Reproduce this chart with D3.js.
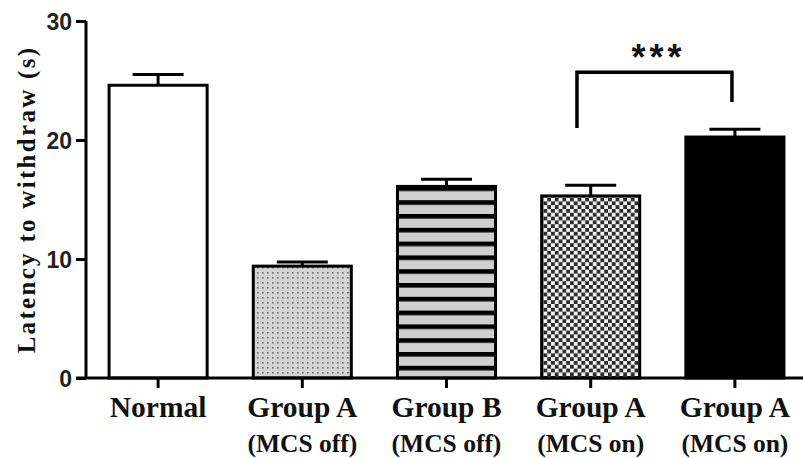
<!DOCTYPE html>
<html>
<head>
<meta charset="utf-8">
<script src="https://cdn.jsdelivr.net/npm/d3@7"></script>
<style>
  html, body { margin: 0; padding: 0; background: #fff; }
  svg { display: block; }
</style>
</head>
<body>
<svg id="chart" width="803" height="458"></svg>
<script>
// Withdrawal latency per group (mean ± SEM)
const categories = ["Normal", "Group A", "Group B", "Group A", "Group A"];
const subLabels = ["", "(MCS off)", "(MCS off)", "(MCS on)", "(MCS on)"];
const means = [24.6, 9.4, 16.1, 15.3, 20.25];
const sems = [0.9, 0.35, 0.6, 0.9, 0.65];
const fills = ["white", "stipple", "stripes", "checker", "solid"];
const yTicks = [0, 10, 20, 30];
// Significance bracket between the two "MCS on" groups
const bracket = { from: 3, to: 4, leftLeg: 21.0, rightLeg: 23.2, top: 25.7, label: "***" };

const SERIF = "'Liberation Serif', 'Times New Roman', Times, serif";
const SANS = "'Liberation Sans', Arial, Helvetica, sans-serif";

const svg = d3.select("#chart");
const margin = { left: 86, right: -4, top: 21, bottom: 80 };
const W = 803, H = 458;

const x = d3.scaleBand()
  .domain(d3.range(categories.length))
  .range([margin.left, W - margin.right])
  .paddingInner(0.32)
  .paddingOuter(0.16);

const y = d3.scaleLinear()
  .domain([0, 30])
  .range([H - margin.bottom, margin.top]);

// Fill patterns
const defs = svg.append("defs");

const stip = defs.append("pattern").attr("id", "stipple")
  .attr("patternUnits", "userSpaceOnUse").attr("width", 5).attr("height", 5);
stip.append("rect").attr("width", 5).attr("height", 5).attr("fill", "#d4d4d4");
stip.append("rect").attr("x", 2).attr("y", 2).attr("width", 1.6).attr("height", 1.6).attr("fill", "#707070");

const str = defs.append("pattern").attr("id", "stripes")
  .attr("patternUnits", "userSpaceOnUse").attr("width", 10).attr("height", 13.8)
  .attr("y", y(means[2]));
str.append("rect").attr("width", 10).attr("height", 13.8).attr("fill", "#cfcfcf");
str.append("rect").attr("width", 10).attr("height", 4.6).attr("fill", "#000");

const cs = 3.8;
const chk = defs.append("pattern").attr("id", "checker")
  .attr("patternUnits", "userSpaceOnUse").attr("width", cs * 2).attr("height", cs * 2);
chk.append("rect").attr("width", cs * 2).attr("height", cs * 2).attr("fill", "#f2f2f2");
chk.append("rect").attr("width", cs).attr("height", cs).attr("fill", "#2e2e2e");
chk.append("rect").attr("x", cs).attr("y", cs).attr("width", cs).attr("height", cs).attr("fill", "#2e2e2e");

const fillOf = f => f === "white" ? "#fff" : f === "solid" ? "#000" : `url(#${f})`;

// Bars
svg.append("g").selectAll("rect")
  .data(means)
  .join("rect")
  .attr("x", (d, i) => x(i))
  .attr("y", d => y(d))
  .attr("width", x.bandwidth())
  .attr("height", d => y(0) - y(d))
  .attr("fill", (d, i) => fillOf(fills[i]))
  .attr("stroke", "#000")
  .attr("stroke-width", 3);

// Error bars (upper only)
const capW = x.bandwidth() * 0.52;
const eb = svg.append("g").attr("stroke", "#000").attr("stroke-width", 3);
means.forEach((m, i) => {
  const cx = x(i) + x.bandwidth() / 2;
  eb.append("line").attr("x1", cx).attr("x2", cx).attr("y1", y(m)).attr("y2", y(m + sems[i]));
  eb.append("line").attr("x1", cx - capW / 2).attr("x2", cx + capW / 2)
    .attr("y1", y(m + sems[i])).attr("y2", y(m + sems[i]));
});

// Y axis
const yAxis = svg.append("g")
  .attr("transform", `translate(${margin.left},0)`)
  .call(d3.axisLeft(y).tickValues(yTicks).tickSize(10).tickPadding(4).tickSizeOuter(0));
yAxis.select(".domain").attr("stroke-width", 3).attr("d", `M0,${y(30)}V${y(0)}`);
yAxis.selectAll(".tick line").attr("stroke-width", 3);
yAxis.selectAll(".tick text")
  .style("font-family", SANS)
  .style("font-weight", "bold")
  .style("font-size", "23px")
  .attr("fill", "#222")
  .attr("dy", "0.36em");

// X axis
const xAxis = svg.append("g")
  .attr("transform", `translate(0,${y(0)})`)
  .call(d3.axisBottom(x).tickSize(10).tickSizeOuter(0).tickFormat(""));
xAxis.select(".domain").attr("stroke-width", 3).attr("d", `M${margin.left - 10},0H${W}`);
xAxis.selectAll(".tick line").attr("stroke-width", 3);

// Category labels
const labels = svg.append("g");
categories.forEach((c, i) => {
  const cx = x(i) + x.bandwidth() / 2;
  labels.append("text")
    .attr("x", cx).attr("y", 417).attr("text-anchor", "middle")
    .style("font-family", SERIF).style("font-weight", "bold")
    .style("font-size", "29.5px").attr("fill", "#111").text(c);
  if (subLabels[i]) {
    labels.append("text")
      .attr("x", cx).attr("y", 452).attr("text-anchor", "middle")
      .style("font-family", SERIF).style("font-weight", "bold")
      .style("font-size", "25.5px").attr("fill", "#111").text(subLabels[i]);
  }
});

// Y axis title
svg.append("text")
  .attr("transform", `translate(35,${(y(0) + y(30)) / 2}) rotate(-90)`)
  .attr("text-anchor", "middle")
  .style("font-family", SERIF).style("font-weight", "bold")
  .style("font-size", "25px")
  .attr("letter-spacing", 2.3)
  .attr("fill", "#111")
  .text("Latency to withdraw (s)");

// Significance bracket
const bw = x.bandwidth();
const bx1 = x(bracket.from) + bw * 0.36;
const bx2 = x(bracket.to) + bw * 0.47;
svg.append("path")
  .attr("d", `M${bx1},${y(bracket.leftLeg)}V${y(bracket.top)}H${bx2}V${y(bracket.rightLeg)}`)
  .attr("fill", "none")
  .attr("stroke", "#000")
  .attr("stroke-width", 3.5);
svg.append("text")
  .attr("x", (bx1 + bx2) / 2 + 4)
  .attr("y", 70)
  .attr("text-anchor", "middle")
  .style("font-family", SANS).style("font-weight", "bold")
  .style("font-size", "36px")
  .attr("letter-spacing", 4)
  .attr("fill", "#111")
  .text(bracket.label);
</script>
</body>
</html>
